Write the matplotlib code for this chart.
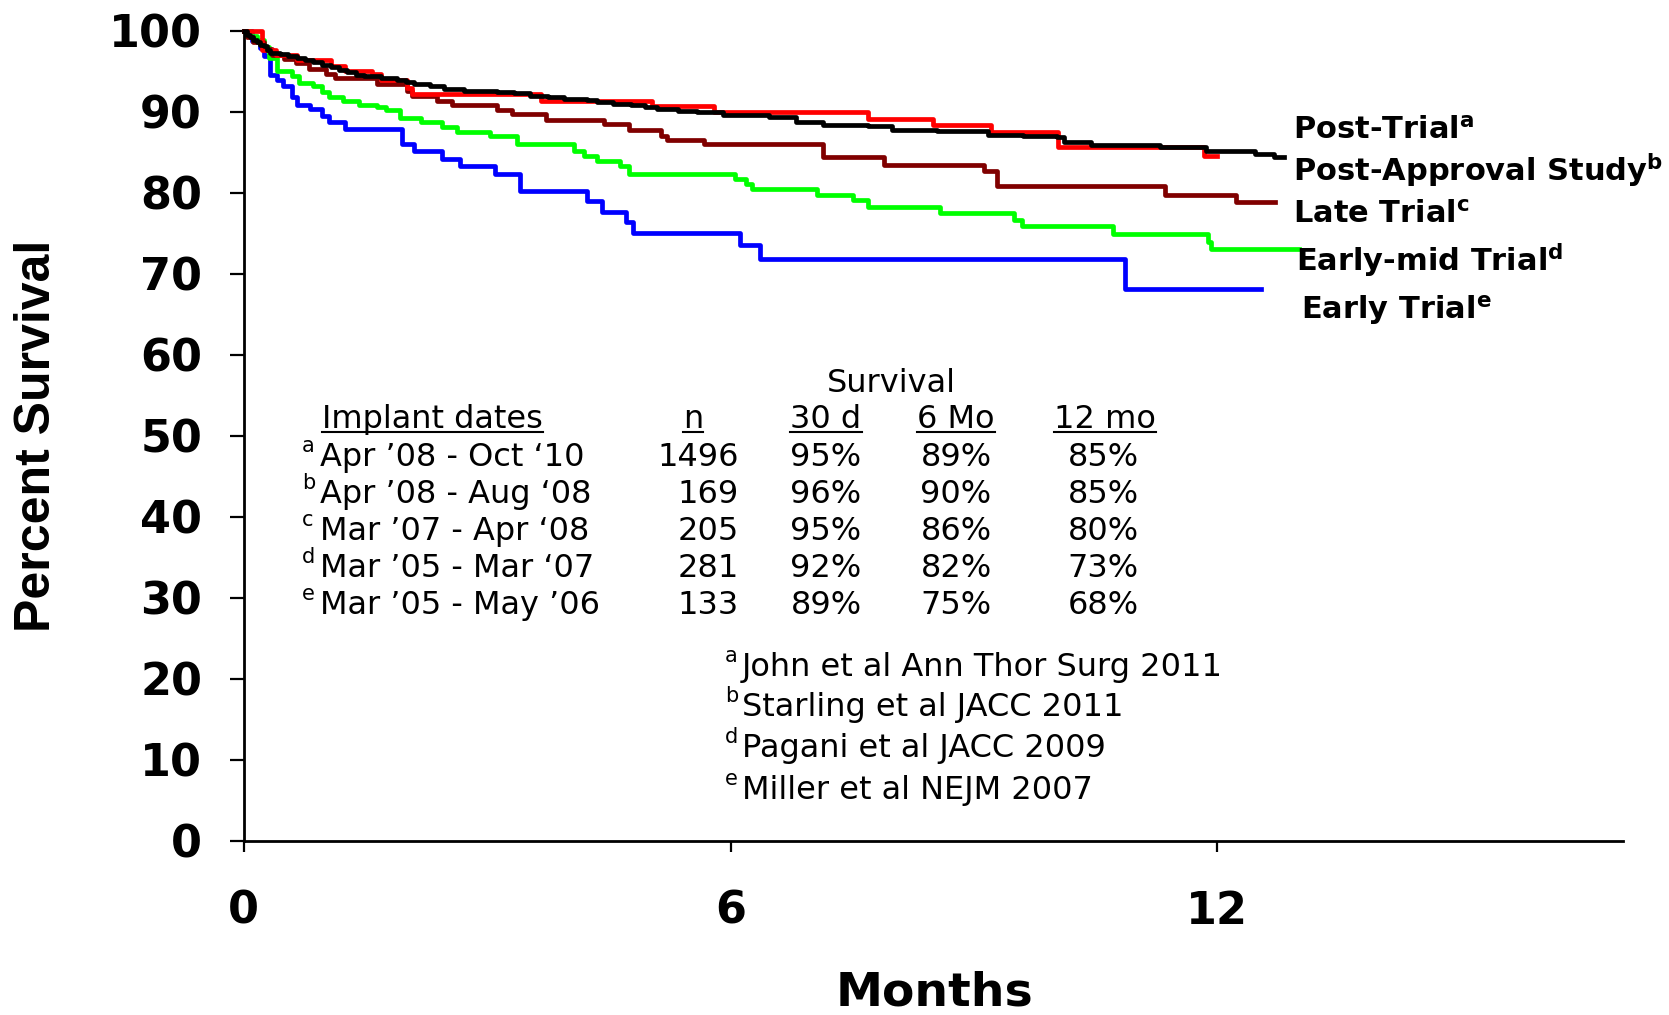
import numpy as np
import matplotlib.pyplot as plt
from matplotlib.lines import Line2D

plt.rcParams['font.family'] = ['DejaVu Sans']
plt.rcParams['mathtext.fontset'] = 'dejavusans'

# --- survival curves (months, percent) ---
early_t = [0, 0.10, 0.20, 0.25, 0.33, 0.41, 0.49, 0.60, 0.66, 0.82, 0.97, 1.05, 1.25,
           1.95, 2.10, 2.45, 2.67, 3.10, 3.41, 4.23, 4.42, 4.71, 4.80, 6.12, 6.36,
           10.86, 12.54]
early_v = [100, 98.8, 97.9, 96.9, 94.6, 94.0, 93.2, 91.8, 90.9, 90.3, 89.5, 88.7, 87.9,
           86.1, 85.2, 84.2, 83.3, 82.3, 80.2, 79.0, 77.7, 76.4, 75.1, 73.6, 71.85,
           68.2, 68.2]

earlymid_t = [0, 0.08, 0.16, 0.25, 0.31, 0.41, 0.60, 0.68, 0.86, 0.97, 1.05, 1.23, 1.42,
              1.64, 1.75, 1.93, 2.18, 2.45, 2.63, 3.04, 3.37, 4.07, 4.19, 4.36, 4.64,
              4.75, 6.05, 6.19, 6.26, 7.07, 7.51, 7.70, 8.58, 9.50, 9.59, 10.72, 11.88,
              11.92, 13.01]
earlymid_v = [100, 99.4, 98.9, 98.0, 96.7, 95.1, 94.4, 93.6, 93.2, 92.4, 91.8, 91.4, 90.9,
              90.6, 90.2, 89.3, 88.7, 88.1, 87.5, 87.0, 86.1, 85.2, 84.6, 84.0, 83.3,
              82.3, 81.7, 81.1, 80.5, 79.8, 79.1, 78.3, 77.5, 76.7, 75.9, 74.9, 74.0,
              73.05, 73.05]

late_t = [0, 0.04, 0.12, 0.25, 0.35, 0.50, 0.65, 0.80, 1.01, 1.13, 1.64, 2.01, 2.08,
          2.38, 2.57, 3.12, 3.31, 3.72, 4.44, 4.75, 5.14, 5.22, 5.67, 7.14, 7.89, 9.12,
          9.28, 11.36, 12.23, 12.71]
late_v = [100, 99.3, 98.6, 97.8, 97.0, 96.5, 96.0, 95.3, 94.7, 94.2, 93.4, 92.6, 92.0,
          91.4, 90.8, 90.2, 89.7, 89.0, 88.5, 87.8, 87.0, 86.5, 86.0, 84.4, 83.5, 82.7,
          80.9, 79.8, 78.85, 78.85]

pas_t = [0, 0.23, 0.40, 0.66, 1.07, 1.25, 1.58, 1.69, 2.01, 2.08, 3.66, 5.03, 5.80,
         7.70, 8.50, 9.21, 10.04, 11.83, 12.0]
pas_v = [100, 97.6, 97.0, 96.4, 95.7, 95.1, 94.7, 93.9, 93.0, 92.2, 91.4, 90.7, 89.96,
         89.13, 88.4, 87.5, 85.7, 84.6, 84.6]

post_t = [0, 0.04, 0.08, 0.12, 0.16, 0.20, 0.25, 0.29, 0.33, 0.45, 0.55, 0.66, 0.76,
          0.86, 0.97, 1.07, 1.17, 1.27, 1.38, 1.48, 1.69, 1.89, 2.00, 2.10, 2.30, 2.47,
          2.71, 3.12, 3.33, 3.53, 3.75, 3.95, 4.23, 4.36, 4.55, 4.77, 4.95, 5.10, 5.35,
          5.59, 5.91, 6.48, 6.81, 7.14, 7.70, 7.99, 8.55, 9.17, 9.60, 10.02, 10.11,
          10.44, 11.29, 11.86, 12.47, 12.70, 12.82]
post_v = [100, 99.5, 99.2, 98.9, 98.6, 98.3, 98.1, 97.7, 97.3, 97.1, 96.9, 96.7, 96.4,
          96.1, 95.8, 95.5, 95.2, 94.9, 94.6, 94.4, 94.2, 93.9, 93.7, 93.5, 93.2, 92.8,
          92.6, 92.4, 92.3, 92.0, 91.8, 91.6, 91.5, 91.2, 91.0, 90.8, 90.6, 90.3, 90.15,
          90.0, 89.6, 89.4, 88.7, 88.4, 88.2, 87.8, 87.6, 87.2, 87.0, 86.9, 86.3,
          85.9, 85.7, 85.2, 84.8, 84.4, 84.4]

curve_labels = [r"Post-Trial$^\mathbf{a}$", r"Post-Approval Study$^\mathbf{b}$",
                r"Late Trial$^\mathbf{c}$", r"Early-mid Trial$^\mathbf{d}$",
                r"Early Trial$^\mathbf{e}$"]

# --- table ---
sup_letters = ["a", "b", "c", "d", "e"]
implant_dates = ["Apr ’08 - Oct ‘10", "Apr ’08 - Aug ‘08", "Mar ’07 - Apr ‘08",
                 "Mar ’05 - Mar ‘07", "Mar ’05 - May ’06"]
n_pts = ["1496", "169", "205", "281", "133"]
surv_30d = ["95%", "96%", "95%", "92%", "89%"]
surv_6mo = ["89%", "90%", "86%", "82%", "75%"]
surv_12mo = ["85%", "85%", "80%", "73%", "68%"]
headers = ["Implant dates", "n", "30 d", "6 Mo", "12 mo"]

ref_letters = ["a", "b", "d", "e"]
refs = ["John et al Ann Thor Surg 2011", "Starling et al JACC 2011",
        "Pagani et al JACC 2009", "Miller et al NEJM 2007"]

W, H = 1669, 1015
fig = plt.figure(figsize=(W / 100, H / 100), dpi=100)
ax = fig.add_axes([243.7 / W, 1 - 841 / H, (1623 - 243.7) / W, (841 - 30.9) / H])


def px(x, y):
    return x / W, 1 - y / H


# curves (black on top)
lw = 3.4
ax.step(early_t, early_v, where='post', color='#0000FF', lw=lw, clip_on=False)
ax.step(earlymid_t, earlymid_v, where='post', color='#00FF00', lw=lw, clip_on=False)
ax.step(late_t, late_v, where='post', color='#800000', lw=lw, clip_on=False)
ax.step(pas_t, pas_v, where='post', color='#FF0000', lw=lw, clip_on=False)
ax.step(post_t, post_v, where='post', color='black', lw=lw, clip_on=False)

ax.set_xlim(0, 17)
ax.set_ylim(0, 100)
ax.set_yticks(np.arange(0, 101, 10))
ax.set_xticks([0, 6, 12])
for s in ['top', 'right']:
    ax.spines[s].set_visible(False)
for s in ['left', 'bottom']:
    ax.spines[s].set_linewidth(2)
ax.tick_params(axis='y', direction='out', length=10, width=1.6, pad=20,
               labelsize=32)
ax.tick_params(axis='x', direction='out', length=8, width=1.6, pad=27,
               labelsize=32)
for lab in ax.get_xticklabels() + ax.get_yticklabels():
    lab.set_fontweight('bold')

fig.text(*px(37, 436), "Percent Survival", rotation=90, ha='center', va='center',
         fontsize=36, fontweight='bold', family='Liberation Sans')
fig.text(*px(934, 1006), "Months", ha='center', va='baseline', fontsize=34,
         fontweight='bold')

# curve labels on the right
lab_pos = [(1293, 139), (1293, 181), (1293, 223), (1296, 271), (1301, 319)]
for (x, y), t in zip(lab_pos, curve_labels):
    fig.text(*px(x, y), t, ha='left', va='baseline', fontsize=22, fontweight='bold')

# table
fs = 23
fig.text(*px(891, 392), "Survival", ha='center', va='baseline', fontsize=fs)
head_x = [(322, 'left'), (693, 'center'), (826, 'center'), (956, 'center'),
          (1105, 'center')]
head_texts = []
for (x, ha), h in zip(head_x, headers):
    head_texts.append(fig.text(*px(x, 428), h, ha=ha, va='baseline', fontsize=fs))

row_y = [466, 503, 540, 577, 614]
for i, y in enumerate(row_y):
    fig.text(*px(302, y - 14), sup_letters[i], ha='left', va='baseline', fontsize=15)
    fig.text(*px(320, y), implant_dates[i], ha='left', va='baseline', fontsize=fs)
    fig.text(*px(739, y), n_pts[i], ha='right', va='baseline', fontsize=fs)
    fig.text(*px(826, y), surv_30d[i], ha='center', va='baseline', fontsize=fs)
    fig.text(*px(956, y), surv_6mo[i], ha='center', va='baseline', fontsize=fs)
    fig.text(*px(1103, y), surv_12mo[i], ha='center', va='baseline', fontsize=fs)

ref_y = [676, 716, 757, 799]
for y, l, r in zip(ref_y, ref_letters, refs):
    fig.text(*px(725, y - 14), l, ha='left', va='baseline', fontsize=15)
    fig.text(*px(742, y), r, ha='left', va='baseline', fontsize=fs)

# underline the header cells
fig.canvas.draw()
r = fig.canvas.get_renderer()
for t in head_texts:
    bb = t.get_window_extent(r)
    yl = 1 - 432 / H
    fig.add_artist(Line2D([bb.x0 / W, bb.x1 / W], [yl, yl], color='black', lw=1.5,
                          transform=fig.transFigure))

fig.savefig("out.png", dpi=100)
